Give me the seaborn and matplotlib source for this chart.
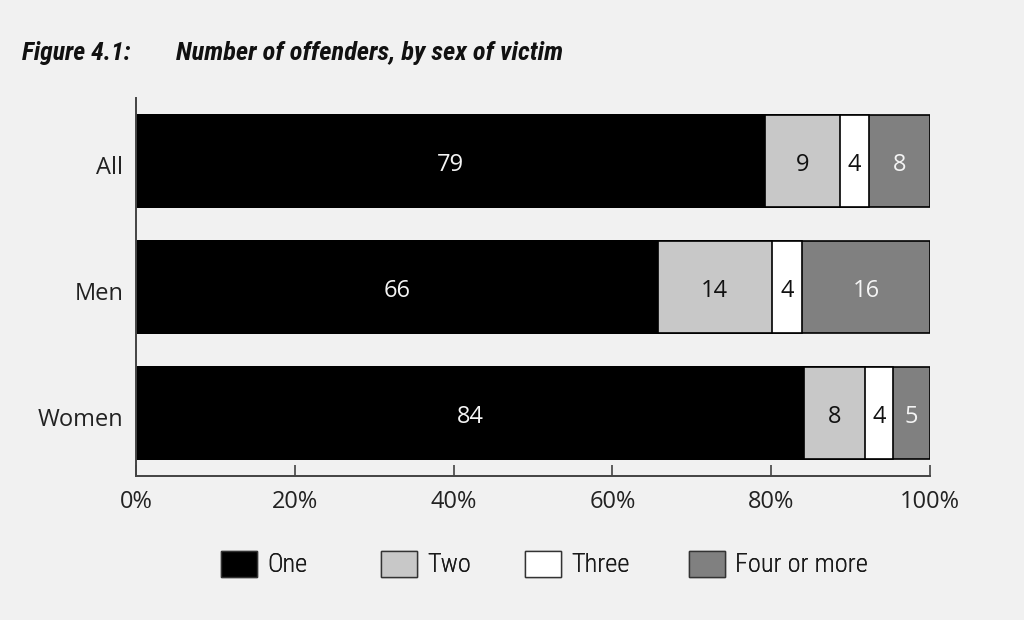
import matplotlib
matplotlib.use("Agg")
import matplotlib.pyplot as plt
import matplotlib.transforms as mtrans
import seaborn as sns
import pandas as pd
import numpy as np
from matplotlib.patches import Patch

groups = ["All", "Men", "Women"]
series = ["One", "Two", "Three", "Four or more"]
one = [79.2, 65.7, 84.1]
two = [9.5, 14.4, 7.7]
three = [3.6, 3.8, 3.5]
four = [7.7, 16.1, 4.7]
label_one = [79, 66, 84]
label_two = [9, 14, 8]
label_three = [4, 4, 4]
label_four = [8, 16, 5]
xticks = [0, 20, 40, 60, 80, 100]

colors = ["#000000", "#c8c8c8", "#ffffff", "#808080"]
text_colors = ["#f4f4f4", "#111111", "#111111", "#f4f4f4"]

sns.set_theme(style="white")
BG = "#f1f1f1"
BODY = ["Open Sans", "DejaVu Sans"]
NARROW = ["Roboto Condensed", "Liberation Sans Narrow", "Roboto", "DejaVu Sans"]
plt.rcParams["font.family"] = BODY

fig = plt.figure(figsize=(10.24, 6.2), dpi=100, facecolor=BG)
ax = fig.add_axes([136/1024, 1-476/620, (930-136)/1024, (476-98)/620])
ax.set_facecolor(BG)

vals = [one, two, three, four]
labels = [label_one, label_two, label_three, label_four]
cums = np.cumsum(np.array(vals), axis=0)

# draw cumulative totals from largest to smallest so segments stack
for i in reversed(range(len(series))):
    df = pd.DataFrame({"group": groups, "value": cums[i]})
    sns.barplot(data=df, y="group", x="value", orient="h", color=colors[i],
                saturation=1, width=0.73, edgecolor="black", linewidth=1.2, ax=ax)

for i in range(len(series)):
    for j, g in enumerate(groups):
        center = cums[i][j] - vals[i][j] / 2
        ax.annotate(str(labels[i][j]), (center, j), xytext=(0, -3), textcoords="offset points",
                    ha="center", va="center", fontsize=17, fontweight="normal",
                    color=text_colors[i], family=BODY)

ax.set_xlim(0, 100)
ax.set_ylim(2.5, -0.5)
ax.set_xticks(xticks)
ax.set_xticklabels([f"{t}%" for t in xticks], fontsize=17, fontweight="normal", color="#222222")
ax.set_yticks(range(len(groups)))
ax.set_yticklabels(groups, fontsize=17, fontweight="normal", color="#222222")
ax.set_xlabel("")
ax.set_ylabel("")
ax.tick_params(axis="x", direction="in", length=8, width=1.2, color="#444444", pad=10, bottom=True)
ax.tick_params(axis="y", length=0, pad=9)
shift = mtrans.ScaledTranslation(0, -4/100, fig.dpi_scale_trans)
for lab in ax.get_yticklabels():
    lab.set_transform(lab.get_transform() + shift)
for s in ["top", "right"]:
    ax.spines[s].set_visible(False)
for s in ["left", "bottom"]:
    ax.spines[s].set_color("#444444")
    ax.spines[s].set_linewidth(1.4)

fig.text(22/1024, 1-60/620, "Figure 4.1:", fontsize=18.5, fontweight="bold", style="italic",
         fontstretch="condensed", family=NARROW, va="baseline", color="#111111")
fig.text(176/1024, 1-60/620, "Number of offenders, by sex of victim", fontsize=19,
         fontweight="bold", style="italic", fontstretch="condensed", family=NARROW,
         va="baseline", color="#111111")

# legend entries, one per column position
leg_x = [221, 381, 525, 689]
for c, name, x in zip(colors, series, leg_x):
    h = Patch(facecolor=c, edgecolor="#333333", linewidth=1)
    lg = fig.legend([h], [name], loc="center left", bbox_to_anchor=(x/1024, 1-564/620),
                    frameon=False, borderpad=0, borderaxespad=0, handlelength=1.36,
                    handleheight=1.14, handletextpad=0.4,
                    prop={"family": NARROW, "size": 19, "weight": 300, "stretch": "condensed"})
    for t in lg.get_texts():
        t.set_color("#1a1a1a")
    fig.add_artist(lg)

fig.savefig("out.png", dpi=100, facecolor=BG)
